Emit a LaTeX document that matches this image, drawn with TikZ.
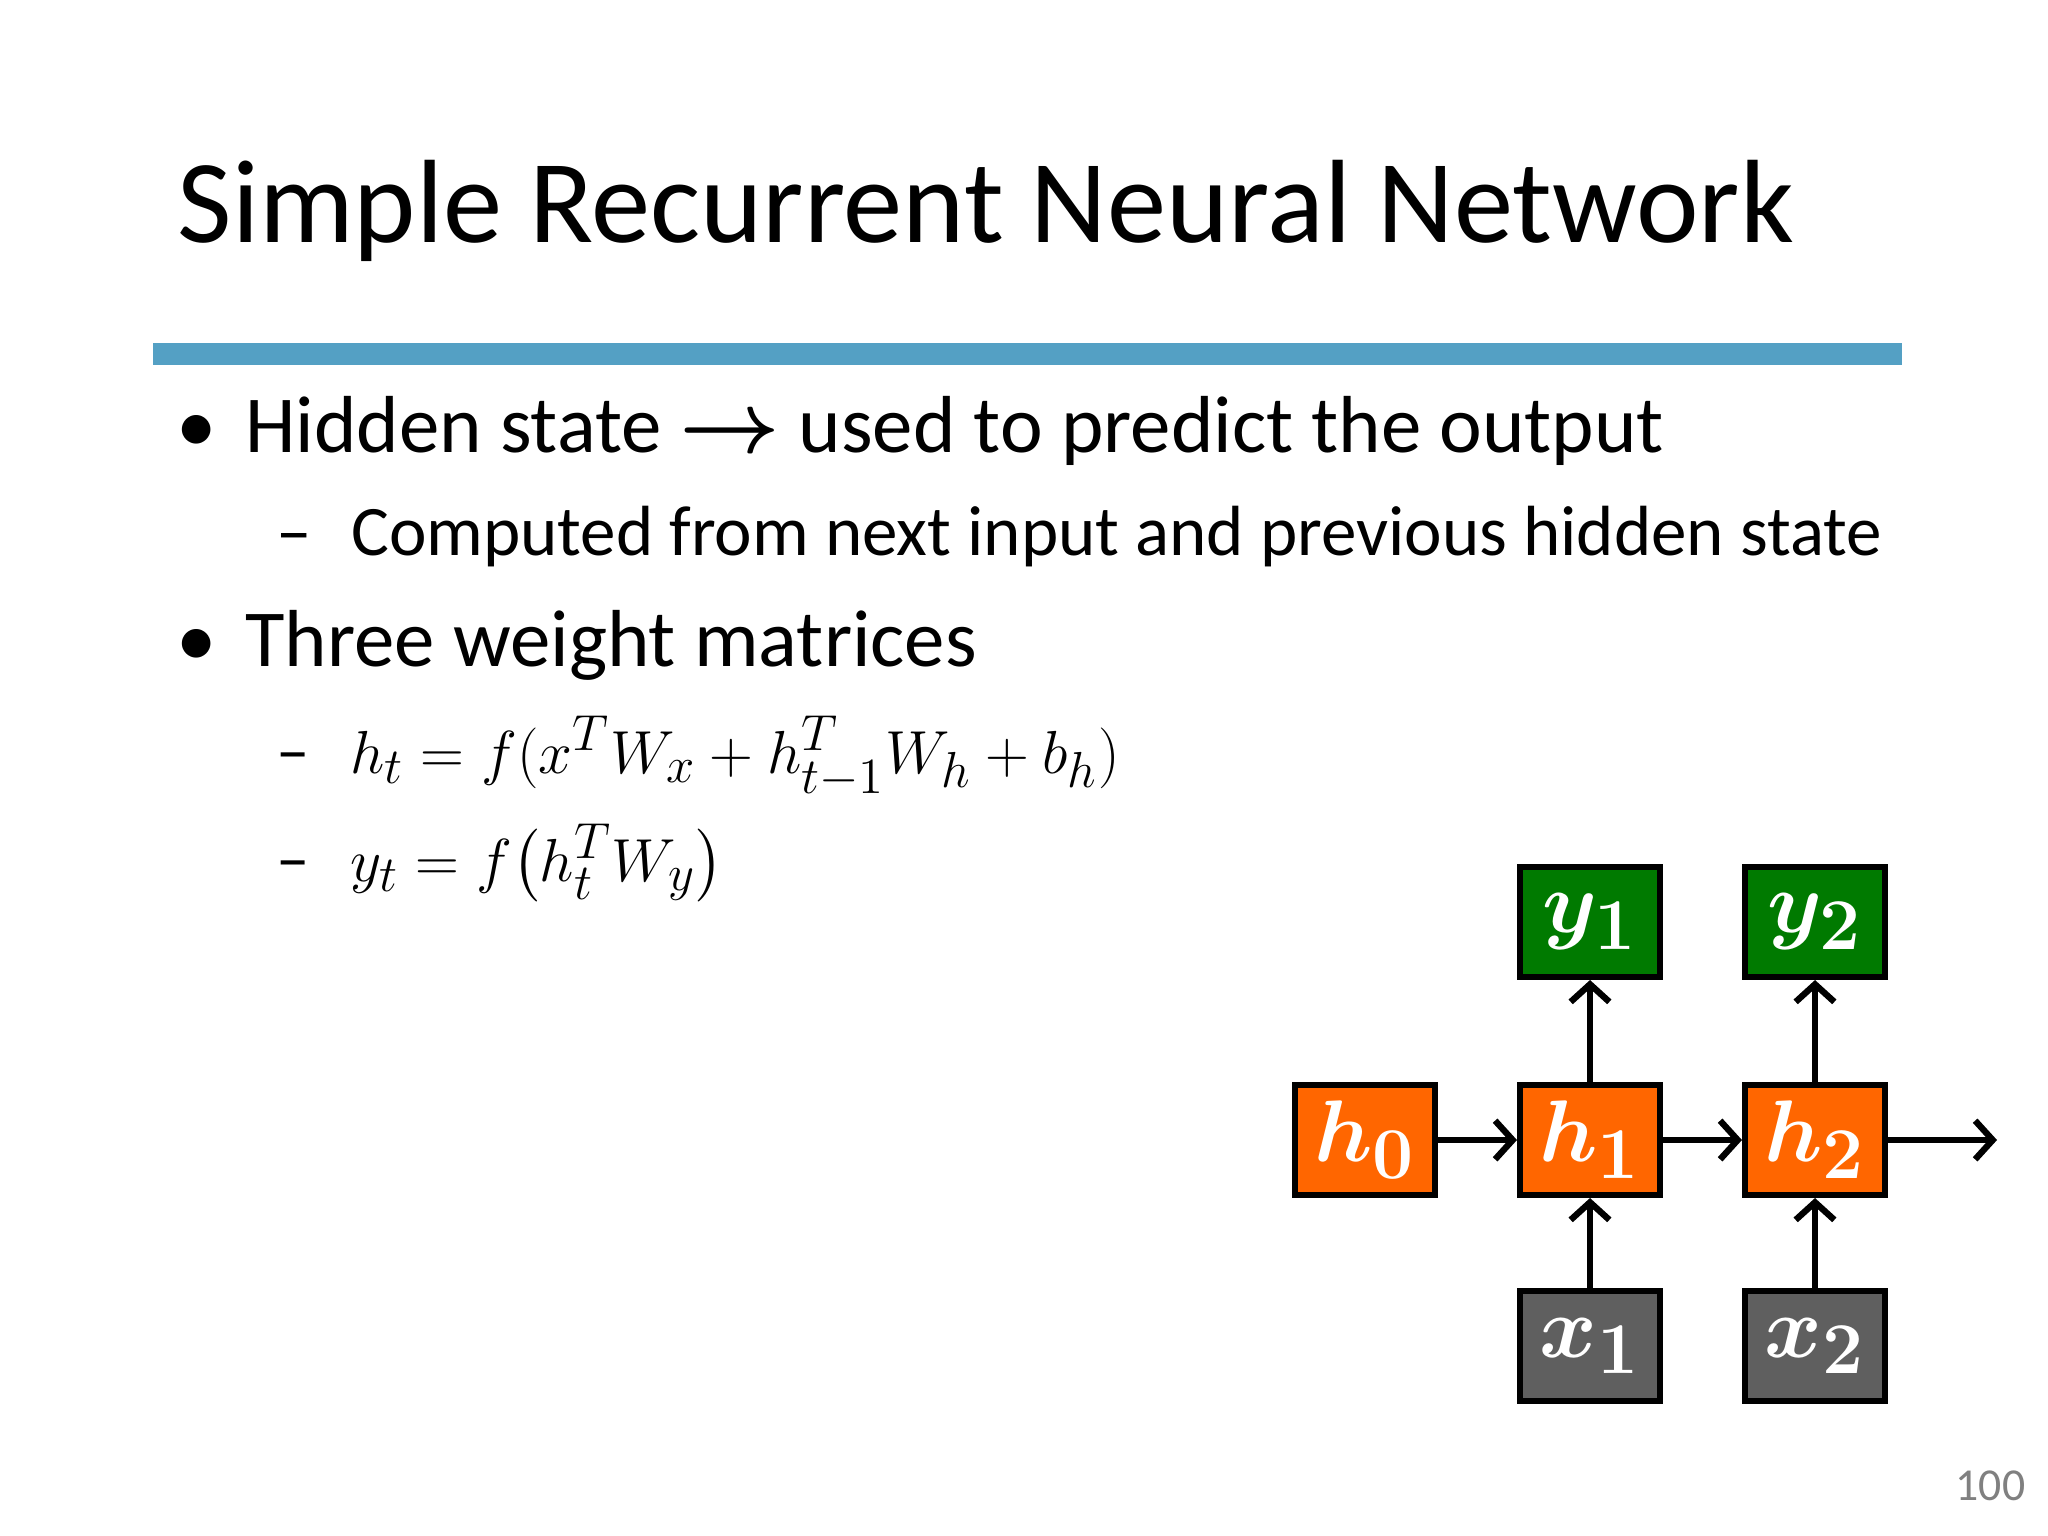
\documentclass[tikz,border=0pt]{standalone}
\usepackage{fontspec}
\usepackage{amsmath,bm}
\usetikzlibrary{arrows.meta}
\setmainfont{Carlito}
\begin{document}
\begin{tikzpicture}[x=0.01cm,y=-0.01cm,
  box/.style={draw=black,line width=1.7pt,minimum width=1.40cm,minimum height=1.10cm,inner sep=0pt,text=white,font=\fontsize{29}{29}\selectfont},
  hb/.style={box,fill=hcol},yb/.style={box,fill=ycol},xb/.style={box,fill=xcol},
  arr/.style={-{Straight Barb[length=5pt,width=11pt,line width=1.8pt]},line width=1.9pt}]
\definecolor{hcol}{RGB}{255,102,0}\definecolor{ycol}{RGB}{0,122,0}\definecolor{xcol}{RGB}{95,95,95}
\definecolor{barc}{RGB}{84,160,196}
\useasboundingbox (0,0) rectangle (2048,1536);
\fill[white] (0,0) rectangle (2048,1536);
\node[anchor=base west,inner sep=0pt,font=\fontsize{33.7}{34}\selectfont] (title) at (177,242) {Simple Recurrent Neural Network};
\fill[barc] (153,343) rectangle (1902,365);
\node[anchor=base west,inner sep=0pt,font=\fontsize{23}{23}\selectfont] (b1) at (176,452) {\textbullet\hspace{0.35em}Hidden state $\boldsymbol{\rightarrow}$ used to predict the output};
\node[anchor=base west,inner sep=0pt,font=\fontsize{20.2}{21}\selectfont] (s1) at (276,555) {–\hspace{0.55em}Computed from next input and previous hidden state};
\node[anchor=base west,inner sep=0pt,font=\fontsize{23}{23}\selectfont] (b2) at (176,666) {\textbullet\hspace{0.35em}Three weight matrices};
\node[anchor=base west,inner sep=0pt,font=\fontsize{19}{20}\selectfont] (s2) at (276,773) {–\hspace{0.6em}$h_t = f(x^TW_x + h_{t-1}^TW_h + b_h)$};
\node[anchor=base west,inner sep=0pt,font=\fontsize{19}{20}\selectfont] (s3) at (276,881) {–\hspace{0.6em}$y_t = f\bigl(h_t^TW_y\bigr)$};
\node[hb] (h0) at (1365,1140) {$\bm{h_0}$};
\node[hb] (h1) at (1590,1140) {$\bm{h_1}$};
\node[hb] (h2) at (1815,1140) {$\bm{h_2}$};
\node[yb] (y1) at (1590,922) {$\bm{y_1}$};
\node[yb] (y2) at (1815,922) {$\bm{y_2}$};
\node[xb] (x1) at (1590,1346) {$\bm{x_1}$};
\node[xb] (x2) at (1815,1346) {$\bm{x_2}$};
\coordinate (out) at (1997,1140);
\draw[arr] (h0) -- (h1); \draw[arr] (h1) -- (h2); \draw[arr] (h2) -- (out);
\draw[arr] (x1) -- (h1); \draw[arr] (x2) -- (h2);
\draw[arr] (h1) -- (y1); \draw[arr] (h2) -- (y2);
\node[anchor=base east,inner sep=0pt,text=gray,font=\fontsize{13}{13}\selectfont] (pg) at (2026,1500) {100};
\end{tikzpicture}
\end{document}
